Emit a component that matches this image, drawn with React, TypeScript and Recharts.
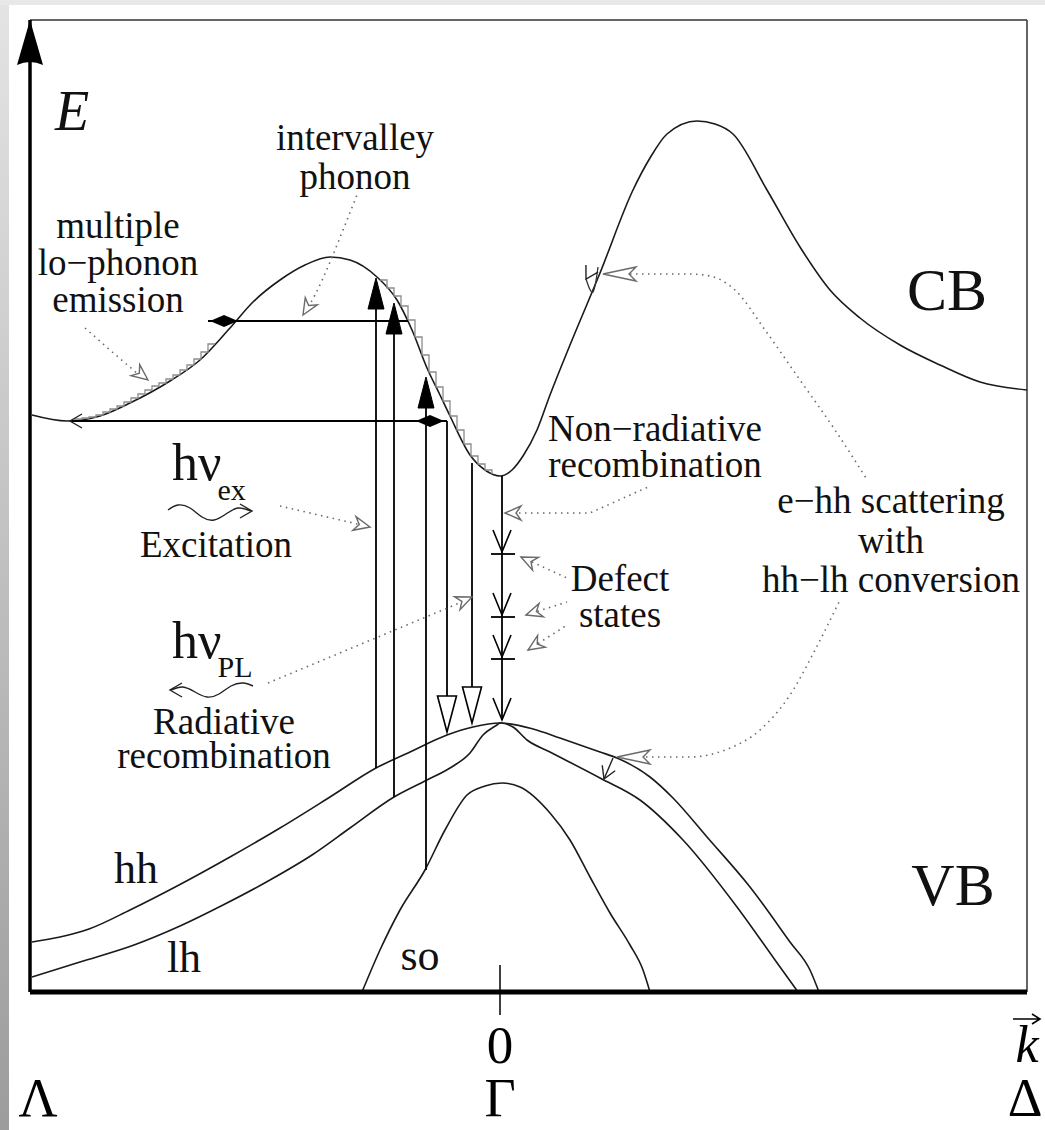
import React from "react";
import {
  ComposedChart,
  Line,
  Scatter,
  XAxis,
  YAxis,
  ReferenceLine,
  ReferenceDot,
} from "recharts";

type Pt = { k: number; E: number };

const SERIF = '"Liberation Serif", "Times New Roman", serif';

// wave vector k in arbitrary units (Γ = 0, Λ side negative), energy E in arbitrary units
const cbBand: Pt[] = [
  { k: -4.68, E: 5.77 }, { k: -4.33, E: 5.71 }, { k: -4.0, E: 5.76 }, { k: -3.7, E: 5.89 },
  { k: -3.3, E: 6.11 }, { k: -3.0, E: 6.32 }, { k: -2.7, E: 6.64 }, { k: -2.47, E: 6.9 },
  { k: -2.2, E: 7.12 }, { k: -1.95, E: 7.27 }, { k: -1.7, E: 7.35 }, { k: -1.5, E: 7.32 },
  { k: -1.23, E: 7.15 }, { k: -1.03, E: 6.92 }, { k: -0.88, E: 6.62 }, { k: -0.73, E: 6.24 },
  { k: -0.6, E: 5.97 }, { k: -0.5, E: 5.76 }, { k: -0.3, E: 5.37 }, { k: -0.15, E: 5.22 },
  { k: 0, E: 5.16 }, { k: 0.12, E: 5.22 }, { k: 0.23, E: 5.36 }, { k: 0.37, E: 5.62 },
  { k: 0.5, E: 5.97 }, { k: 0.7, E: 6.47 }, { k: 1.0, E: 7.19 }, { k: 1.33, E: 8.02 },
  { k: 1.5, E: 8.34 }, { k: 1.67, E: 8.58 }, { k: 1.97, E: 8.71 }, { k: 2.15, E: 8.68 },
  { k: 2.33, E: 8.58 }, { k: 2.67, E: 8.02 }, { k: 3.0, E: 7.45 }, { k: 3.3, E: 7.02 },
  { k: 3.6, E: 6.74 }, { k: 4.0, E: 6.47 }, { k: 4.4, E: 6.27 }, { k: 4.8, E: 6.1 },
  { k: 5.27, E: 6.02 },
];

const hhBand: Pt[] = [
  { k: -4.68, E: 0.5 }, { k: -4.4, E: 0.55 }, { k: -4.11, E: 0.63 }, { k: -3.7, E: 0.82 },
  { k: -3.21, E: 1.07 }, { k: -2.7, E: 1.35 }, { k: -2.2, E: 1.64 }, { k: -1.7, E: 1.95 },
  { k: -1.24, E: 2.24 }, { k: -0.9, E: 2.4 }, { k: -0.53, E: 2.57 }, { k: -0.27, E: 2.65 },
  { k: 0, E: 2.69 }, { k: 0.33, E: 2.63 }, { k: 0.6, E: 2.54 }, { k: 1.0, E: 2.4 },
  { k: 1.17, E: 2.34 }, { k: 1.5, E: 2.15 }, { k: 1.73, E: 1.94 }, { k: 2.07, E: 1.55 },
  { k: 2.5, E: 1.05 }, { k: 2.9, E: 0.5 }, { k: 3.1, E: 0.22 }, { k: 3.19, E: 0 },
];

const lhBand: Pt[] = [
  { k: -4.68, E: 0.15 }, { k: -4.2, E: 0.3 }, { k: -3.66, E: 0.47 }, { k: -3.2, E: 0.66 },
  { k: -2.77, E: 0.87 }, { k: -2.3, E: 1.12 }, { k: -1.88, E: 1.37 }, { k: -1.5, E: 1.64 },
  { k: -1.06, E: 1.95 }, { k: -0.73, E: 2.12 }, { k: -0.5, E: 2.24 }, { k: -0.3, E: 2.39 },
  { k: -0.17, E: 2.57 }, { k: -0.03, E: 2.67 }, { k: 0, E: 2.69 }, { k: 0.13, E: 2.65 },
  { k: 0.27, E: 2.52 }, { k: 0.5, E: 2.4 }, { k: 1.0, E: 2.14 }, { k: 1.4, E: 1.92 },
  { k: 1.83, E: 1.52 }, { k: 2.37, E: 0.85 }, { k: 2.75, E: 0.32 }, { k: 2.98, E: 0 },
];

const soBand: Pt[] = [
  { k: -1.38, E: 0 }, { k: -1.2, E: 0.42 }, { k: -1.0, E: 0.82 }, { k: -0.75, E: 1.22 },
  { k: -0.55, E: 1.62 }, { k: -0.33, E: 1.97 }, { k: -0.15, E: 2.06 }, { k: 0.02, E: 2.09 },
  { k: 0.2, E: 2.05 }, { k: 0.5, E: 1.79 }, { k: 0.7, E: 1.52 }, { k: 0.9, E: 1.15 },
  { k: 1.1, E: 0.79 }, { k: 1.3, E: 0.47 }, { k: 1.43, E: 0.22 }, { k: 1.5, E: 0 },
];

// multiple lo-phonon emission cascades along the conduction band
const loPhononSteps: Pt[] = [
  { k: -4.25, E: 5.72 }, { k: -4.18, E: 5.73 }, { k: -4.11, E: 5.74 }, { k: -4.04, E: 5.75 },
  { k: -3.97, E: 5.77 }, { k: -3.9, E: 5.8 }, { k: -3.83, E: 5.83 }, { k: -3.76, E: 5.86 },
  { k: -3.69, E: 5.9 }, { k: -3.62, E: 5.94 }, { k: -3.55, E: 5.98 }, { k: -3.48, E: 6.02 },
  { k: -3.41, E: 6.06 }, { k: -3.34, E: 6.09 }, { k: -3.27, E: 6.13 }, { k: -3.2, E: 6.17 },
  { k: -3.13, E: 6.22 }, { k: -3.06, E: 6.27 }, { k: -2.99, E: 6.33 }, { k: -2.92, E: 6.4 },
  { k: -2.85, E: 6.48 },
];

const cascadeSteps: Pt[] = [
  { k: -1.2, E: 7.12 }, { k: -1.13, E: 7.04 }, { k: -1.06, E: 6.96 }, { k: -0.99, E: 6.86 },
  { k: -0.92, E: 6.72 }, { k: -0.85, E: 6.55 }, { k: -0.78, E: 6.37 }, { k: -0.71, E: 6.2 },
  { k: -0.64, E: 6.05 }, { k: -0.57, E: 5.91 }, { k: -0.5, E: 5.76 }, { k: -0.43, E: 5.62 },
  { k: -0.36, E: 5.48 }, { k: -0.29, E: 5.36 }, { k: -0.22, E: 5.28 }, { k: -0.15, E: 5.22 },
  { k: -0.08, E: 5.18 },
];

// vertical transitions: optical excitation (up) and recombination (down)
const excitations = [
  { k: -1.24, from: 2.24, to: 7.1 },
  { k: -1.06, from: 1.95, to: 6.85 },
  { k: -0.74, from: 1.22, to: 6.1 },
];
const radiative = [
  { k: -0.53, from: 5.71, to: 2.96 },
  { k: -0.28, from: 5.29, to: 3.05 },
];
const nonRadiative = { k: 0.02, from: 5.16, to: 2.72 };
const defectLevels = [4.38, 3.75, 3.33];
const defectWidth = { from: -0.09, to: 0.15 };

// horizontal intervalley phonon transfers
const intervalley = [
  { E: 6.71, from: -2.92, to: -0.92 },
  { E: 5.71, from: -4.3, to: -0.53 },
];

// dotted pointers from the labels
const pointers: Pt[][] = [
  [{ k: -1.95, E: 6.8 }, { k: -1.85, E: 6.97 }, { k: -1.7, E: 7.3 }, { k: -1.55, E: 7.67 }, { k: -1.43, E: 7.97 }],
  [{ k: -4.15, E: 6.64 }, { k: -3.9, E: 6.42 }, { k: -3.62, E: 6.18 }],
  [{ k: -2.2, E: 4.86 }, { k: -1.34, E: 4.66 }],
  [{ k: -2.32, E: 3.09 }, { k: -0.31, E: 3.93 }],
  [{ k: 0.21, E: 4.35 }, { k: 0.67, E: 4.14 }],
  [{ k: 0.26, E: 3.77 }, { k: 0.67, E: 3.9 }],
  [{ k: 0.28, E: 3.42 }, { k: 0.67, E: 3.67 }],
  [{ k: 1.3, E: 7.18 }, { k: 1.9, E: 7.18 }, { k: 2.1, E: 7.16 }, { k: 2.35, E: 7.02 }, { k: 2.65, E: 6.62 }, { k: 3.0, E: 6.12 }, { k: 3.35, E: 5.62 }, { k: 3.66, E: 5.14 }],
  [{ k: 1.4, E: 2.35 }, { k: 1.9, E: 2.35 }, { k: 2.25, E: 2.42 }, { k: 2.6, E: 2.62 }, { k: 2.9, E: 2.97 }, { k: 3.15, E: 3.42 }, { k: 3.4, E: 3.92 }],
];
const nonRadPointer: Pt[] = [{ k: 0.07, E: 4.79 }, { k: 0.9, E: 4.79 }, { k: 1.48, E: 5.05 }];

// photon symbols
const excitationWave: Pt[] = [
  { k: -3.32, E: 4.82 }, { k: -3.22, E: 4.87 }, { k: -3.1, E: 4.84 }, { k: -2.98, E: 4.75 },
  { k: -2.86, E: 4.72 }, { k: -2.74, E: 4.78 }, { k: -2.62, E: 4.84 }, { k: -2.49, E: 4.81 },
];
const emissionWave: Pt[] = [
  { k: -3.29, E: 3.02 }, { k: -3.17, E: 3.05 }, { k: -3.05, E: 3.0 }, { k: -2.93, E: 2.95 },
  { k: -2.81, E: 2.98 }, { k: -2.69, E: 3.06 }, { k: -2.57, E: 3.09 }, { k: -2.47, E: 3.06 },
];
const cbHop: Pt[] = [{ k: 0.86, E: 7.13 }, { k: 0.93, E: 7.0 }, { k: 0.98, E: 7.25 }];
const hhToLh: Pt[] = [{ k: 1.04, E: 2.13 }, { k: 1.13, E: 2.34 }];

// arrow heads (kind, direction in degrees)
const heads = [
  { k: -4.7, E: 9.69, kind: "axis", dir: 0 },
  { k: -1.24, E: 7.14, kind: "solid", dir: -90 },
  { k: -1.06, E: 6.89, kind: "solid", dir: -90 },
  { k: -0.74, E: 6.15, kind: "solid", dir: -90 },
  { k: -0.53, E: 2.6, kind: "hollow", dir: 90 },
  { k: -0.28, E: 2.69, kind: "hollow", dir: 90 },
  { k: 0.02, E: 4.4, kind: "vee", dir: 90 },
  { k: 0.02, E: 3.77, kind: "vee", dir: 90 },
  { k: 0.02, E: 3.35, kind: "vee", dir: 90 },
  { k: 0.02, E: 2.72, kind: "vee", dir: 90 },
  { k: -2.76, E: 6.71, kind: "diamond", dir: 0 },
  { k: -0.7, E: 5.71, kind: "diamond", dir: 0 },
  { k: -4.3, E: 5.71, kind: "tiny", dir: 180 },
  { k: -1.97, E: 6.77, kind: "note", dir: 121 },
  { k: -3.52, E: 6.12, kind: "note", dir: 38 },
  { k: -1.3, E: 4.65, kind: "note", dir: 13 },
  { k: -0.28, E: 3.95, kind: "note", dir: -23 },
  { k: 0.05, E: 4.79, kind: "note", dir: 180 },
  { k: 0.21, E: 4.35, kind: "note", dir: -155 },
  { k: 0.26, E: 3.77, kind: "note", dir: 162 },
  { k: 0.28, E: 3.42, kind: "note", dir: 147 },
  { k: 1.03, E: 7.18, kind: "bignote", dir: 180 },
  { k: 1.17, E: 2.35, kind: "bignote", dir: 180 },
  { k: 1.04, E: 2.13, kind: "tiny", dir: 113 },
  { k: 0.86, E: 7.13, kind: "tiny", dir: 120 },
  { k: -2.48, E: 4.81, kind: "tiny", dir: 0 },
  { k: -3.3, E: 3.02, kind: "tiny", dir: 180 },
];

const kTicks = [-4.62, 0, 5.27];
const kTickTop = ["", "0", "k"];
const kTickBottom = ["Λ", "Γ", "Δ"];

// labels; stacked lines are kept in one text block
const notes: { lines: string[]; k: number; E: number; size?: number; lead?: number; italic?: boolean; anchor?: string }[] = [
  { lines: ["E"], k: -4.45, E: 8.62, size: 56, italic: true, anchor: "start" },
  { lines: ["intervalley", "phonon"], k: -1.45, E: 8.42, lead: 39 },
  { lines: ["multiple", "lo−phonon", "emission"], k: -3.82, E: 7.54, lead: 37 },
  { lines: ["Excitation"], k: -2.84, E: 4.35 },
  { lines: ["Radiative", "recombination"], k: -2.76, E: 2.58, lead: 34 },
  { lines: ["Non−radiative", "recombination"], k: 1.55, E: 5.51, lead: 36 },
  { lines: ["e−hh scattering", "with", "hh−lh conversion"], k: 3.91, E: 4.79, lead: 39.5 },
  { lines: ["Defect", "states"], k: 1.2, E: 4.01, lead: 36 },
  { lines: ["CB"], k: 4.47, E: 6.82, size: 60 },
  { lines: ["VB"], k: 4.53, E: 0.87, size: 60 },
  { lines: ["hh"], k: -3.64, E: 1.09, size: 44 },
  { lines: ["lh"], k: -3.16, E: 0.2, size: 44 },
  { lines: ["so"], k: -0.8, E: 0.22, size: 44 },
];

const photons = [
  { sub: "ex", k: -3.28, E: 5.12, dy: 20 },
  { sub: "PL", k: -3.28, E: 3.34, dy: 19 },
];

const band = { stroke: "#1a1a1a", strokeWidth: 1.6 };
const bold = { stroke: "#000", strokeWidth: 1.8 };
const dotted = { stroke: "#6a6a6a", strokeWidth: 1.6, strokeDasharray: "1.5 4.5" };
const stairs = { stroke: "#8c8c8c", strokeWidth: 1.3 };

const vertical = (t: { k: number; from: number; to: number }): Pt[] => [
  { k: t.k, E: t.from },
  { k: t.k, E: t.to },
];

const series: { id: string; data: Pt[]; curve: any; style: any }[] = [
  { id: "cb", data: cbBand, curve: "monotone", style: band },
  { id: "hh", data: hhBand, curve: "monotone", style: band },
  { id: "lh", data: lhBand, curve: "monotone", style: band },
  { id: "so", data: soBand, curve: "monotone", style: band },
  { id: "lo", data: loPhononSteps, curve: "stepBefore", style: stairs },
  { id: "cascade", data: cascadeSteps, curve: "stepAfter", style: stairs },
  ...excitations.map((t, i) => ({ id: `ex${i}`, data: vertical(t), curve: "linear", style: bold })),
  ...radiative.map((t, i) => ({ id: `rad${i}`, data: vertical(t), curve: "linear", style: bold })),
  { id: "nonrad", data: vertical(nonRadiative), curve: "linear", style: bold },
  ...defectLevels.map((E, i) => ({
    id: `def${i}`,
    data: [{ k: defectWidth.from, E }, { k: defectWidth.to, E }],
    curve: "linear",
    style: bold,
  })),
  ...intervalley.map((t, i) => ({
    id: `iv${i}`,
    data: [{ k: t.from, E: t.E }, { k: t.to, E: t.E }],
    curve: "linear",
    style: bold,
  })),
  ...pointers.map((p, i) => ({ id: `ptr${i}`, data: p, curve: "monotone", style: dotted })),
  { id: "nonradPtr", data: nonRadPointer, curve: "linear", style: dotted },
  { id: "waveEx", data: excitationWave, curve: "natural", style: { stroke: "#222", strokeWidth: 1.4 } },
  { id: "wavePl", data: emissionWave, curve: "natural", style: { stroke: "#222", strokeWidth: 1.4 } },
  { id: "hop", data: cbHop, curve: "natural", style: { stroke: "#333", strokeWidth: 1.3 } },
  { id: "hhlh", data: hhToLh, curve: "linear", style: { stroke: "#222", strokeWidth: 1.4 } },
];

const HEAD_PATHS: Record<string, string> = {
  axis: "M0 -3 L13 42 Q0 36 -13 42 Z",
  solid: "M0 0 L-31 -8 L-31 8 Z",
  hollow: "M0 0 L-36 -9.5 L-36 9.5 Z",
  vee: "M-22 -9 L0 0 L-22 9",
  diamond: "M14 0 L0 -6 L-14 0 L0 6 Z",
  note: "M0 0 L-16 -7 L-11 0 L-16 7 Z",
  bignote: "M0 0 L-33 -7 L-26 0 L-33 7 Z",
  tiny: "M-12 -7 L0 0 L-12 7",
};

const HEAD_STYLE: Record<string, any> = {
  axis: { fill: "#000", stroke: "none" },
  solid: { fill: "#000", stroke: "#000", strokeWidth: 1 },
  hollow: { fill: "#fff", stroke: "#000", strokeWidth: 1.6 },
  vee: { fill: "none", stroke: "#000", strokeWidth: 1.6 },
  diamond: { fill: "#000", stroke: "none" },
  note: { fill: "#fff", stroke: "#6a6a6a", strokeWidth: 1.4 },
  bignote: { fill: "#fff", stroke: "#6a6a6a", strokeWidth: 1.4 },
  tiny: { fill: "none", stroke: "#222", strokeWidth: 1.4 },
};

function renderHead(props: any) {
  const { cx, cy, payload } = props;
  if (cx == null || cy == null || !payload) return <g />;
  return (
    <path
      d={HEAD_PATHS[payload.kind]}
      transform={`translate(${cx},${cy}) rotate(${payload.dir})`}
      strokeLinejoin="miter"
      {...HEAD_STYLE[payload.kind]}
    />
  );
}

function KTick(props: any) {
  const { x, y, index } = props;
  return (
    <g fontFamily={SERIF} fill="#000">
      {index === 1 && (
        <>
          <line x1={x} x2={x} y1={y - 27} y2={y + 23} stroke="#000" strokeWidth={1.5} />
          <text x={x} y={y + 71} textAnchor="middle" fontSize={53}>
            {kTickTop[index]}
          </text>
        </>
      )}
      {index === 2 && (
        <>
          <text x={x} y={y + 70} textAnchor="middle" fontSize={52} fontStyle="italic">
            {kTickTop[index]}
          </text>
          <path
            d={`M${x - 14} ${y + 27} H${x + 12} M${x + 5} ${y + 22} L${x + 13} ${y + 27} L${x + 5} ${y + 32}`}
            stroke="#000"
            strokeWidth={1.6}
            fill="none"
          />
        </>
      )}
      <text x={x - (index === 2 ? 2 : 0)} y={y + 124} textAnchor="middle" fontSize={54}>
        {kTickBottom[index]}
      </text>
    </g>
  );
}

export default function App() {
  return (
    <div style={{ position: "absolute", left: 0, top: 0, width: 1045, height: 1130, background: "#fff" }}>
      <div
        style={{
          position: "absolute",
          left: 0,
          top: 0,
          width: 9,
          height: 1130,
          background: "linear-gradient(#e4e4e4, #9c9c9c)",
        }}
      />
      <div style={{ position: "absolute", left: 0, top: 0, width: 1045, height: 5, background: "#e8e8e8" }} />
      <div style={{ position: "absolute", left: 0, top: 0 }}>
        <ComposedChart width={1045} height={1130} margin={{ top: 20, right: 18, bottom: 0, left: 29 }}>
          <XAxis
            type="number"
            dataKey="k"
            domain={[-4.7, 5.27]}
            ticks={kTicks}
            interval={0}
            height={138}
            tickLine={false}
            tickSize={0}
            tickMargin={0}
            axisLine={{ stroke: "#000", strokeWidth: 5 }}
            tick={(p: any) => <KTick {...p} />}
          />
          <YAxis
            type="number"
            dataKey="E"
            domain={[0, 9.72]}
            width={1}
            tick={false}
            tickLine={false}
            axisLine={{ stroke: "#000", strokeWidth: 3.5 }}
          />
          <ReferenceLine y={9.72} stroke="#333" strokeWidth={1.5} />
          <ReferenceLine x={5.27} stroke="#333" strokeWidth={1.5} />
          {series.map((s) => (
            <Line
              key={s.id}
              data={s.data}
              dataKey="E"
              type={s.curve}
              dot={false}
              activeDot={false}
              legendType="none"
              isAnimationActive={false}
              {...s.style}
            />
          ))}
          <Scatter data={heads} dataKey="E" shape={renderHead} isAnimationActive={false} legendType="none" />
          {notes.map((n, i) => (
            <ReferenceDot
              key={`note${i}`}
              x={n.k}
              y={n.E}
              r={0}
              ifOverflow="visible"
              shape={(p: any) => (
                <text
                  x={p.cx}
                  y={p.cy}
                  textAnchor={n.anchor || "middle"}
                  fontFamily={SERIF}
                  fontSize={n.size || 37}
                  fontStyle={n.italic ? "italic" : "normal"}
                  fill="#111"
                >
                  {n.lines.map((t, j) => (
                    <tspan key={j} x={p.cx} dy={j === 0 ? 0 : n.lead}>
                      {t}
                    </tspan>
                  ))}
                </text>
              )}
            />
          ))}
          {photons.map((ph, i) => (
            <ReferenceDot
              key={`ph${i}`}
              x={ph.k}
              y={ph.E}
              r={0}
              ifOverflow="visible"
              shape={(p: any) => (
                <text x={p.cx} y={p.cy} fontFamily={SERIF} fontSize={52} fill="#111">
                  hν
                  <tspan fontSize={30} dx={-4} dy={ph.dy}>
                    {ph.sub}
                  </tspan>
                </text>
              )}
            />
          ))}
        </ComposedChart>
      </div>
    </div>
  );
}
